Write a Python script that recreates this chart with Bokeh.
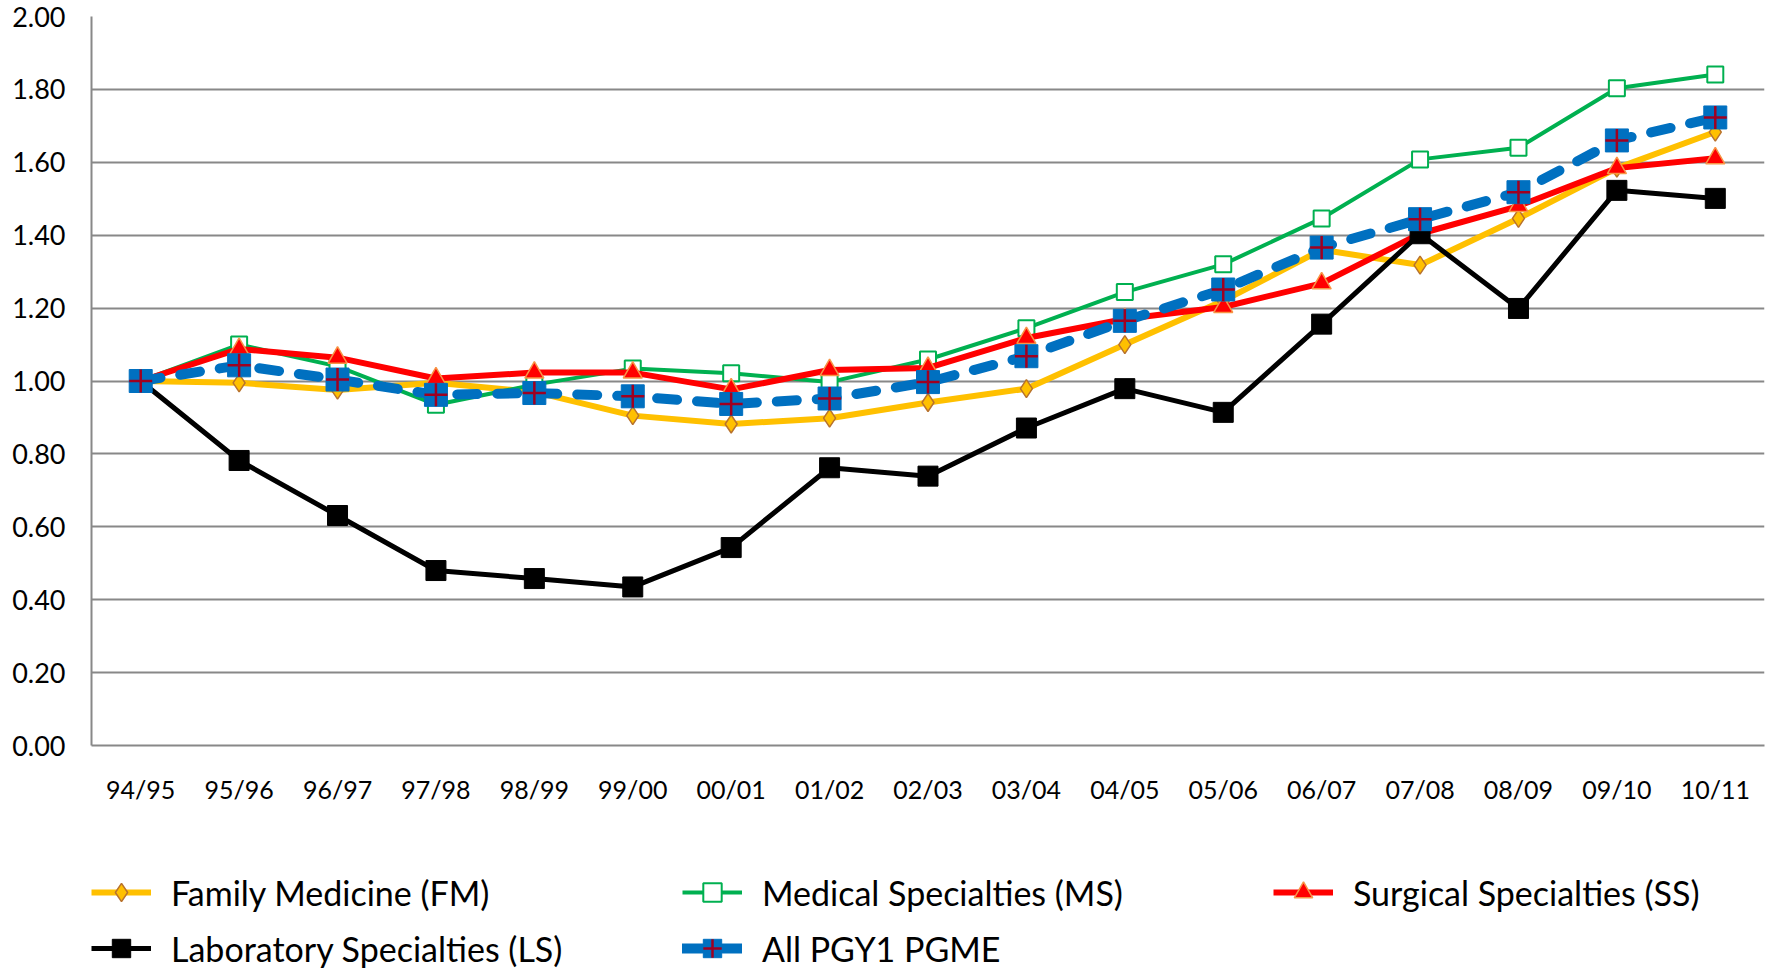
from bokeh.plotting import figure
from bokeh.layouts import column
from bokeh.models import (FactorRange, Range1d, FixedTicker, PrintfTickFormatter,
                          Legend, LegendItem, ColumnDataSource)
from bokeh.embed import file_html
from bokeh.resources import INLINE

categories = ["94/95", "95/96", "96/97", "97/98", "98/99", "99/00", "00/01", "01/02",
              "02/03", "03/04", "04/05", "05/06", "06/07", "07/08", "08/09", "09/10", "10/11"]
fm = [1.00, 0.995, 0.975, 0.995, 0.970, 0.905, 0.882, 0.898, 0.941, 0.979, 1.100, 1.220,
      1.360, 1.318, 1.446, 1.584, 1.683]
ms = [1.00, 1.100, 1.040, 0.935, 0.990, 1.034, 1.021, 0.997, 1.059, 1.145, 1.244, 1.320,
      1.446, 1.608, 1.640, 1.803, 1.841]
ss = [1.00, 1.088, 1.064, 1.007, 1.023, 1.023, 0.977, 1.030, 1.036, 1.118, 1.170, 1.203,
      1.268, 1.404, 1.480, 1.584, 1.611]
ls = [1.00, 0.782, 0.631, 0.480, 0.458, 0.435, 0.543, 0.762, 0.739, 0.871, 0.979, 0.914,
      1.156, 1.404, 1.199, 1.523, 1.501]
all_pgy1 = [1.00, 1.043, 1.004, 0.962, 0.967, 0.958, 0.937, 0.952, 0.997, 1.068, 1.165,
            1.251, 1.366, 1.444, 1.518, 1.660, 1.723]
y_ticks = [0.0, 0.2, 0.4, 0.6, 0.8, 1.0, 1.2, 1.4, 1.6, 1.8, 2.0]
labels = ["Family Medicine (FM)", "Medical Specialties (MS)", "Surgical Specialties (SS)",
          "Laboratory Specialties (LS)", "All PGY1 PGME"]

FONT = "Lato"
GRID = "#888888"

STYLES = {
    "fm": dict(line=dict(line_color="#FFC000", line_width=6),
               marks=[dict(marker="diamond", size=18, fill_color="#FFC000",
                           line_color="#B8722D", line_width=1.5)]),
    "ms": dict(line=dict(line_color="#00B050", line_width=4),
               marks=[dict(marker="square", size=16, fill_color="#FFFFFF",
                           line_color="#00B050", line_width=2)]),
    "ss": dict(line=dict(line_color="#FF0000", line_width=6),
               marks=[dict(marker="triangle", size=19, fill_color="#FF0000",
                           line_color="#F79646", line_width=1.5)]),
    "ls": dict(line=dict(line_color="#000000", line_width=5),
               marks=[dict(marker="square", size=20, fill_color="#000000",
                           line_color="#000000")]),
    "all": dict(line=dict(line_color="#0070C0", line_width=10, line_dash="20 20",
                          line_cap="round"),
                marks=[dict(marker="square", size=23, fill_color="#0070C0",
                            line_color="#0070C0"),
                       dict(marker="cross", size=23, line_color="#A00020", line_width=2.5)]),
}
KEYS = ["fm", "ms", "ss", "ls", "all"]

src = ColumnDataSource(dict(x=categories, fm=fm, ms=ms, ss=ss, ls=ls, all=all_pgy1))

p = figure(x_range=FactorRange(*categories, range_padding=0),
           y_range=Range1d(0, 2.0),
           width=1768, height=815,
           min_border_left=91, min_border_right=4, min_border_top=16, min_border_bottom=70,
           output_backend="svg", toolbar_location=None, outline_line_color=None)

p.xgrid.grid_line_color = None
p.ygrid.grid_line_color = GRID
p.ygrid.grid_line_width = 2
p.yaxis.ticker = FixedTicker(ticks=y_ticks)
p.yaxis.formatter = PrintfTickFormatter(format="%.2f")
for ax in (p.xaxis, p.yaxis):
    ax.axis_line_color = GRID
    ax.axis_line_width = 2
    ax.major_tick_line_color = None
    ax.minor_tick_line_color = None
    ax.major_label_text_font = FONT
    ax.major_label_text_color = "#000000"
p.yaxis.major_label_text_font_size = "27px"
p.xaxis.major_label_text_font_size = "25px"
p.yaxis.major_label_standoff = 20
p.xaxis.major_label_standoff = 22

for k in KEYS:
    st = STYLES[k]
    p.line("x", k, source=src, **st["line"])
    for m in st["marks"]:
        p.scatter("x", k, source=src, **m)

# legend panel below the chart; its proxy glyphs sit outside the visible range
q = figure(x_range=Range1d(0, 1), y_range=Range1d(0, 1), width=1768, height=156,
           min_border=0, x_axis_type=None, y_axis_type=None,
           output_backend="svg", toolbar_location=None, outline_line_color=None)
q.xgrid.grid_line_color = None
q.ygrid.grid_line_color = None
proxy = ColumnDataSource(dict(x=[-5.0, -4.0], y=[-5.0, -5.0]))
items = []
for k, lab in zip(KEYS, labels):
    st = STYLES[k]
    rs = [q.line("x", "y", source=proxy, **st["line"])]
    for m in st["marks"]:
        rs.append(q.scatter("x", "y", source=proxy, **m))
    items.append(LegendItem(label=lab, renderers=rs, index=0))

legend = Legend(items=items, orientation="horizontal", ncols=3, location=(0, 0),
                margin=0, padding=0, spacing=10, glyph_width=60, glyph_height=46,
                label_standoff=20, label_width=501,
                label_text_font=FONT, label_text_font_size="34px",
                label_text_color="#000000",
                border_line_color=None, background_fill_alpha=0)
q.add_layout(legend, "center")

layout = column(p, q, spacing=0)
open("out.html", "w").write(file_html(layout, INLINE))
